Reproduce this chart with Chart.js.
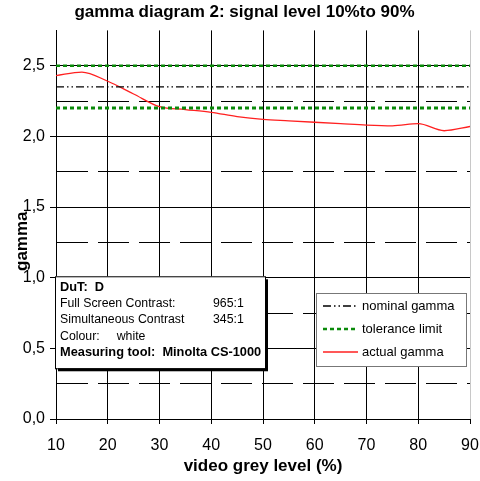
<!DOCTYPE html>
<html>
<head>
<meta charset="utf-8">
<script src="https://cdn.jsdelivr.net/npm/chart.js@4"></script>
<style>
  html, body { margin: 0; padding: 0; background: #fff; }
  #wrap { width: 480px; height: 481px; }
</style>
</head>
<body>
<div id="wrap"><canvas id="gamma-chart" width="480" height="481"></canvas></div>
<script>
// video grey level (%) and measured gamma
const greyLevels = [10, 15, 20, 25, 30, 35, 40, 45, 50, 55, 60, 65, 70, 75, 80, 85, 90];
const actualGamma = [2.43, 2.455, 2.39, 2.30, 2.21, 2.19, 2.17, 2.14, 2.12, 2.11, 2.10, 2.09, 2.08, 2.075, 2.09, 2.04, 2.07];

// reference lines
const lineRange = [10, 90];
const nominalGamma = 2.35;
const toleranceLow = 2.2;
const toleranceHigh = 2.5;

const infoLines = [
    { label: 'DuT:  D', value: '', bold: true },
    { label: 'Full Screen Contrast:', value: '965:1' },
    { label: 'Simultaneous Contrast', value: '345:1' },
    { label: 'Colour:     white', value: '' },
    { label: 'Measuring tool:  Minolta CS-1000', value: '', bold: true },
];

const FONT = '"Liberation Sans", Arial, sans-serif';

function flatLine(v) {
    return lineRange.map(x => ({ x: x, y: v }));
}

function isMajor(v) {
    return Math.round(v * 100) % 50 === 0;
}

// Info box + legend drawn on top of the plot
const overlays = {
    id: 'overlays',
    afterDraw(chart) {
        const { ctx, chartArea, scales: { x, y } } = chart;
        ctx.save();

        // info box
        const bx = chartArea.left - 1, by = y.getPixelForValue(1.01);
        const bw = 210, bh = 92;
        ctx.fillStyle = '#000';
        ctx.fillRect(bx + 3, by + 3, bw, bh);
        ctx.fillStyle = '#fff';
        ctx.fillRect(bx, by, bw, bh);
        ctx.strokeStyle = '#000';
        ctx.lineWidth = 1;
        ctx.strokeRect(bx + 0.5, by + 0.5, bw, bh);
        ctx.fillStyle = '#000';
        ctx.textBaseline = 'middle';
        infoLines.forEach((l, i) => {
            ctx.font = l.bold ? 'bold 12.8px ' + FONT : '12.3px ' + FONT;
            const ty = by + 11 + i * 16.3;
            ctx.fillText(l.label, bx + 5, ty);
            if (l.value) ctx.fillText(l.value, bx + 158, ty);
        });

        // legend
        const lx = 316, ly = 293, lw = 150, lh = 73;
        ctx.fillStyle = '#fff';
        ctx.fillRect(lx, ly, lw, lh);
        ctx.strokeStyle = '#777';
        ctx.strokeRect(lx + 0.5, ly + 0.5, lw, lh);
        const items = [chart.data.datasets[0], chart.data.datasets[1], chart.data.datasets[3]];
        items.forEach((ds, i) => {
            const ry = ly + 13 + i * 23;
            ctx.beginPath();
            ctx.setLineDash(ds.borderDash || []);
            ctx.strokeStyle = ds.borderColor;
            ctx.lineWidth = ds.borderWidth;
            ctx.moveTo(lx + 7, ry);
            ctx.lineTo(lx + 42, ry);
            ctx.stroke();
            ctx.setLineDash([]);
            ctx.fillStyle = '#000';
            ctx.font = '13px ' + FONT;
            ctx.fillText(ds.label, lx + 46, ry);
        });
        ctx.restore();
    }
};

const ctx = document.getElementById('gamma-chart').getContext('2d');

const gammaChart = new Chart(ctx, {
    type: 'line',
    data: {
        datasets: [
            {
                label: 'nominal gamma',
                data: flatLine(nominalGamma),
                borderColor: '#000',
                borderWidth: 1.3,
                borderDash: [8, 3, 1.5, 3, 1.5, 3],
                pointRadius: 0,
            },
            {
                label: 'tolerance limit',
                data: flatLine(toleranceHigh),
                borderColor: '#0a8a0a',
                borderWidth: 2.5,
                borderDash: [4, 3],
                pointRadius: 0,
            },
            {
                label: 'tolerance limit low',
                data: flatLine(toleranceLow),
                borderColor: '#0a8a0a',
                borderWidth: 3,
                borderDash: [4, 3],
                pointRadius: 0,
            },
            {
                label: 'actual gamma',
                data: greyLevels.map((g, i) => ({ x: g, y: actualGamma[i] })),
                borderColor: '#ff2020',
                borderWidth: 1.3,
                tension: 0.4,
                cubicInterpolationMode: 'monotone',
                pointRadius: 0,
            },
        ]
    },
    options: {
        responsive: false,
        animation: false,
        layout: { padding: { top: 0, right: 10, left: 0, bottom: 0 } },
        plugins: {
            legend: { display: false },
            tooltip: { enabled: false },
            title: {
                display: true,
                // leading spaces nudge the title right like the original
                text: '    gamma diagram 2: signal level 10%to 90%',
                color: '#000',
                font: { family: FONT, size: 17, weight: 'bold' },
                padding: { top: 2, bottom: 8 },
            },
        },
        scales: {
            x: {
                type: 'linear',
                min: 10,
                max: 90,
                afterFit: s => { s.height = 62; s.paddingRight = 10; },
                ticks: {
                    stepSize: 10,
                    color: '#000',
                    padding: 12,
                    font: { family: FONT, size: 16 },
                },
                grid: {
                    color: c => c.tick && c.tick.value === 90 ? '#c8c8c8' : '#000',
                    tickColor: '#000',
                    tickLength: 5,
                },
                border: { color: '#000' },
                title: {
                    display: true,
                    text: 'video grey level (%)',
                    color: '#000',
                    font: { family: FONT, size: 17, weight: 'bold' },
                    padding: { top: 0, bottom: 4 },
                },
            },
            y: {
                min: 0,
                max: 2.75,
                afterFit: s => { s.width = 56; },
                ticks: {
                    stepSize: 0.25,
                    autoSkip: false,
                    color: '#000',
                    padding: 5,
                    font: { family: FONT, size: 16 },
                    callback: v => isMajor(v) ? v.toFixed(1).replace('.', ',') : '',
                },
                grid: {
                    color: c => (c.tick && c.tick.value > 2.7) ? 'rgba(0,0,0,0)' : '#000',
                    tickColor: c => (c.tick && isMajor(c.tick.value)) ? '#000' : 'rgba(0,0,0,0)',
                    tickLength: 6,
                },
                border: {
                    color: '#000',
                    dash: c => (c.tick && !isMajor(c.tick.value)) ? [31, 10] : [],
                },
                title: {
                    display: true,
                    text: 'gamma       ',
                    color: '#000',
                    font: { family: FONT, size: 17, weight: 'bold' },
                    padding: { top: 12, bottom: 4 },
                },
            },
        },
    },
    plugins: [overlays]
});
</script>
</body>
</html>
